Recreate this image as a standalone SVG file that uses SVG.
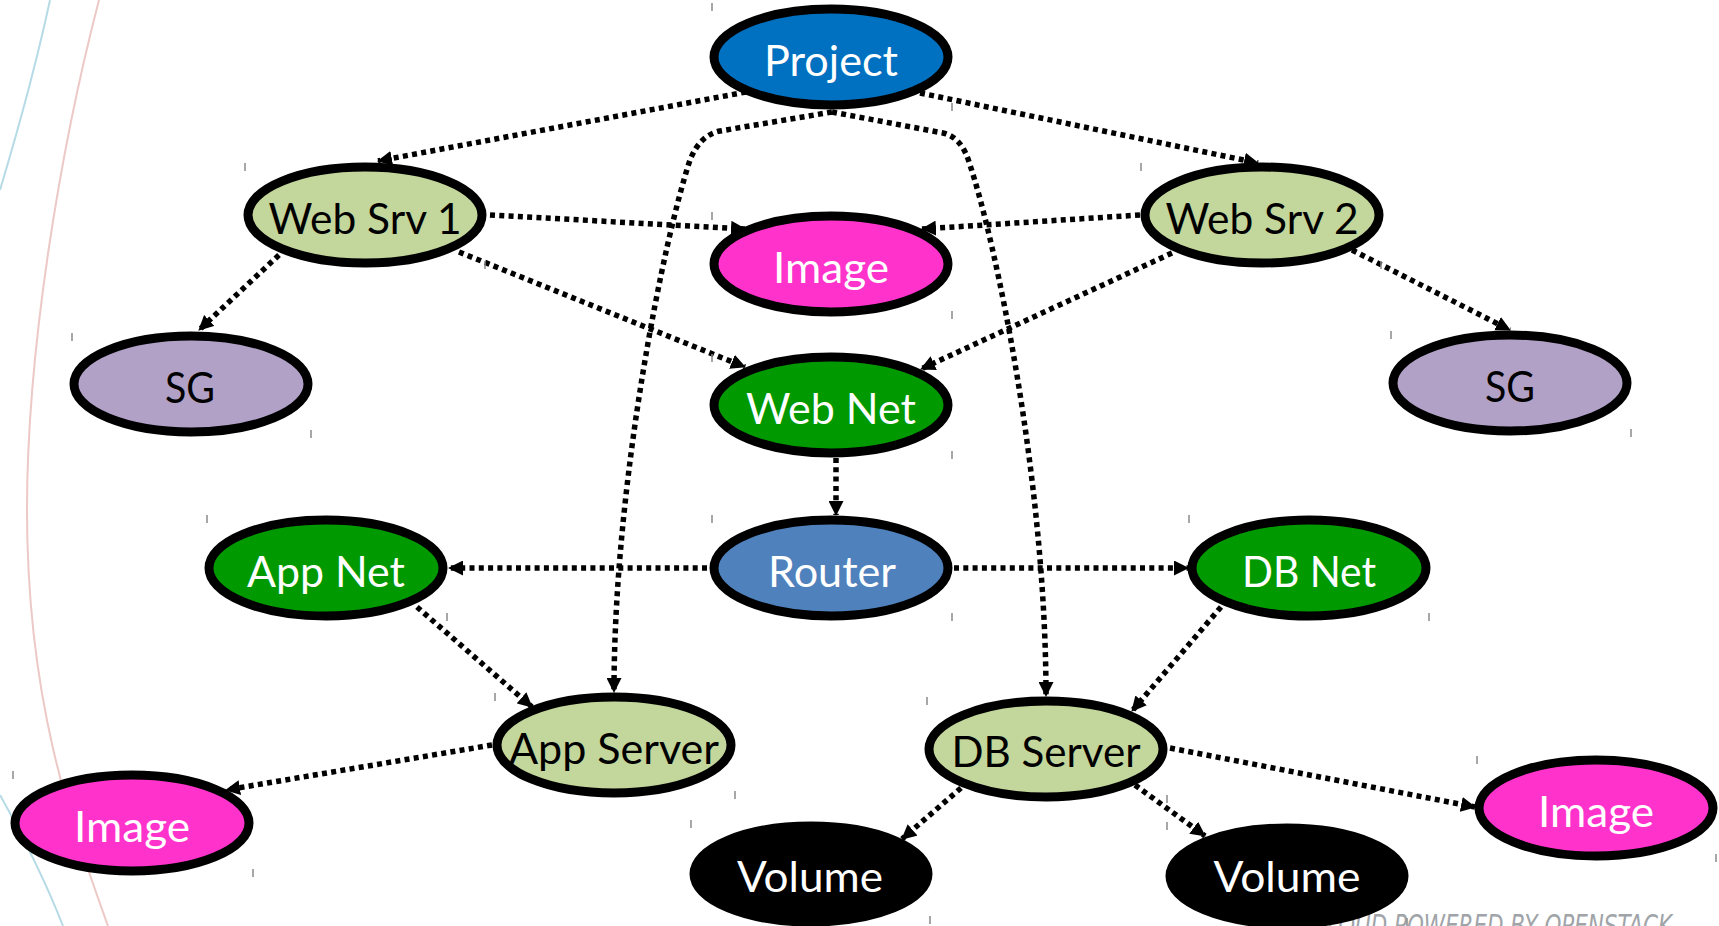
<svg xmlns="http://www.w3.org/2000/svg" width="1719" height="926" viewBox="0 0 1719 926">
<style>
.n{stroke:#000;stroke-width:9}
.t{font-family:Lato,"Open Sans",sans-serif;font-size:42px;text-anchor:middle}
.w{fill:#fff}
.k{fill:#000}
.c{fill:none;stroke:#000;stroke-width:5.5;stroke-dasharray:5 4.3;marker-end:url(#ah)}
.tk{stroke:#8a8a8a;stroke-width:1.5}
</style>
<defs>
<marker id="ah" viewBox="0 0 15 15" refX="14" refY="7.5" markerWidth="15" markerHeight="15" markerUnits="userSpaceOnUse" orient="auto"><path d="M0,0 L15,7.5 L0,15 z" fill="#000"/></marker>
</defs>
<rect width="1719" height="926" fill="#fff"/>
<g id="background" fill="none">
<path d="M99 0 C60 150 27 350 27 510 C27 700 70 820 108 926" stroke="#ecc9c6" stroke-width="2"/>
<path d="M50 0 C35 70 15 140 0 190" stroke="#b6dbe6" stroke-width="2"/>
<path d="M0 795 C25 840 45 880 63 926" stroke="#b6dbe6" stroke-width="2"/>
<text x="1312" y="936" font-family="'DejaVu Sans Condensed','DejaVu Sans',sans-serif" font-style="italic" font-size="31" fill="#a0a4a8" textLength="360" lengthAdjust="spacingAndGlyphs">CLOUD POWERED BY OPENSTACK</text>
</g>
<g id="connectors">
<path class="c" d="M746 92 L378 161"/>
<path class="c" d="M920 93 L1258 163"/>
<path class="c" d="M832 112 L720 131 Q700 135 690 160 C665 235 614 480 614 692"/>
<path class="c" d="M832 112 L943 133 Q962 137 970 165 C995 240 1046 480 1046 696"/>
<path class="c" d="M490 215 L745 229"/>
<path class="c" d="M1140 215 L922 229"/>
<path class="c" d="M459 252 L745 367"/>
<path class="c" d="M1172 253 L921 369"/>
<path class="c" d="M279 255 L199 330"/>
<path class="c" d="M1352 250 L1510 330"/>
<path class="c" d="M836 458 L836 515"/>
<path class="c" d="M707 568 L449 568"/>
<path class="c" d="M954 568 L1188 568"/>
<path class="c" d="M417 607 L532 707"/>
<path class="c" d="M1221 607 L1132 711"/>
<path class="c" d="M492 745 L226 790"/>
<path class="c" d="M961 788 L902 839"/>
<path class="c" d="M1135 785 L1205 836"/>
<path class="c" d="M1170 748 L1475 807"/>
</g>
<g id="project"><ellipse class="n" cx="831" cy="57" rx="117" ry="48" fill="#0070c0"/><text class="t w" x="831" y="76" textLength="134" lengthAdjust="spacingAndGlyphs">Project</text></g>
<g id="image-top"><ellipse class="n" cx="831" cy="264" rx="117" ry="48" fill="#ff33cc"/><text class="t w" x="831" y="283" textLength="116" lengthAdjust="spacingAndGlyphs">Image</text></g>
<g id="web-net"><ellipse class="n" cx="831" cy="405" rx="117" ry="48" fill="#009900"/><text class="t w" x="831" y="424" textLength="170" lengthAdjust="spacingAndGlyphs">Web Net</text></g>
<g id="router"><ellipse class="n" cx="831" cy="568" rx="117" ry="48" fill="#4f81bd"/><text class="t w" x="832" y="587" textLength="128" lengthAdjust="spacingAndGlyphs">Router</text></g>
<g id="web-srv-1"><ellipse class="n" cx="365" cy="215" rx="117" ry="48" fill="#c3d69b"/><text class="t k" x="365" y="234" textLength="193" lengthAdjust="spacingAndGlyphs">Web Srv 1</text></g>
<g id="web-srv-2"><ellipse class="n" cx="1262" cy="215" rx="117" ry="48" fill="#c3d69b"/><text class="t k" x="1262" y="234" textLength="193" lengthAdjust="spacingAndGlyphs">Web Srv 2</text></g>
<g id="sg-1"><ellipse class="n" cx="191" cy="384" rx="117" ry="48" fill="#b2a1c7"/><text class="t k" x="190" y="403" textLength="50" lengthAdjust="spacingAndGlyphs">SG</text></g>
<g id="sg-2"><ellipse class="n" cx="1510" cy="383" rx="117" ry="48" fill="#b2a1c7"/><text class="t k" x="1510" y="402" textLength="50" lengthAdjust="spacingAndGlyphs">SG</text></g>
<g id="app-net"><ellipse class="n" cx="326" cy="568" rx="117" ry="48" fill="#009900"/><text class="t w" x="326" y="587" textLength="158" lengthAdjust="spacingAndGlyphs">App Net</text></g>
<g id="db-net"><ellipse class="n" cx="1309" cy="568" rx="117" ry="48" fill="#009900"/><text class="t w" x="1309" y="587" textLength="134" lengthAdjust="spacingAndGlyphs">DB Net</text></g>
<g id="app-server"><ellipse class="n" cx="614" cy="745" rx="117" ry="48" fill="#c3d69b"/><text class="t k" x="614" y="764" textLength="210" lengthAdjust="spacingAndGlyphs">App Server</text></g>
<g id="db-server"><ellipse class="n" cx="1046" cy="749" rx="117" ry="48" fill="#c3d69b"/><text class="t k" x="1046" y="767" textLength="189" lengthAdjust="spacingAndGlyphs">DB Server</text></g>
<g id="image-left"><ellipse class="n" cx="132" cy="823" rx="117" ry="48" fill="#ff33cc"/><text class="t w" x="132" y="842" textLength="116" lengthAdjust="spacingAndGlyphs">Image</text></g>
<g id="image-right"><ellipse class="n" cx="1596" cy="808" rx="117" ry="48" fill="#ff33cc"/><text class="t w" x="1596" y="827" textLength="116" lengthAdjust="spacingAndGlyphs">Image</text></g>
<g id="volume-1"><ellipse class="n" cx="811" cy="874" rx="117" ry="48" fill="#000"/><text class="t w" x="810" y="892" textLength="146" lengthAdjust="spacingAndGlyphs">Volume</text></g>
<g id="volume-2"><ellipse class="n" cx="1287" cy="876" rx="117" ry="48" fill="#000"/><text class="t w" x="1287" y="892" textLength="147" lengthAdjust="spacingAndGlyphs">Volume</text></g>
<g id="ticks">
<path class="tk" d="M712 3v8M952 103v8M712 212v8M952 311v8M712 354v8M952 451v8M712 515v8M952 613v8M245 163v8M485 261v8M72 333v8M311 430v8M1141 163v8M1381 261v8M1391 331v8M1631 429v8M207 515v8M447 613v8M1189 515v8M1429 613v8M495 693v8M735 791v8M927 697v8M1167 795v8M13 771v8M253 869v8M1477 756v8M1716 854v8M691 820v8M930 916v8M1167 822v8M1407 918v8"/>
</g>
</svg>
